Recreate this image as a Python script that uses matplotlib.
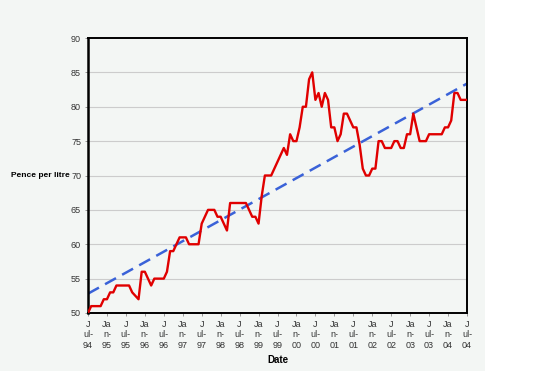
import numpy as np
import matplotlib
matplotlib.use("Agg")
import matplotlib.pyplot as plt
from matplotlib.patches import Rectangle

plt.rcParams['font.family'] = ['Liberation Sans', 'DejaVu Sans']

# Monthly petrol price, Jul 1994 .. Jul 2004 (pence per litre)
price = [
    50, 51, 51, 51, 51, 52, 52, 53, 53, 54,   # Jul94-Apr95
    54, 54, 54, 54, 53, 52.5, 52, 56, 56, 55, # May95-Feb96
    54, 55, 55, 55, 55, 56, 59, 59, 60, 61,   # Mar96-Dec96
    61, 61, 60, 60, 60, 60, 63, 64, 65, 65,   # Jan97-Oct97
    65, 64, 64, 63, 62, 66, 66, 66, 66, 66,   # Nov97-Aug98
    66, 65, 64, 64, 63, 67, 70, 70, 70, 71,   # Sep98-Jun99
    72, 73, 74, 73, 76, 75, 75, 77, 80, 80,   # Jul99-Apr00
    84, 85, 81, 82, 80, 82, 81, 77, 77, 75,   # May00-Feb01
    76, 79, 79, 78, 77, 77, 74.5, 71, 70, 70, # Mar01-Dec01
    71, 71, 75, 75, 74, 74, 74, 75, 75, 74,   # Jan02-Oct02
    74, 76, 76, 79, 77, 75, 75, 75, 76, 76,   # Nov02-Aug03
    76, 76, 76, 77, 77, 78, 82, 82, 81, 81,   # Sep03-Jun04
    81,                                        # Jul04
]

tick_labels = [
    "J\nul-\n94", "Ja\nn-\n95", "J\nul-\n95", "Ja\nn-\n96", "J\nul-\n96",
    "Ja\nn-\n97", "J\nul-\n97", "Ja\nn-\n98", "J\nul-\n98", "Ja\nn-\n99",
    "J\nul-\n99", "Ja\nn-\n00", "J\nul-\n00", "Ja\nn-\n01", "J\nul-\n01",
    "Ja\nn-\n02", "J\nul-\n02", "Ja\nn-\n03", "J\nul-\n03", "Ja\nn-\n04",
    "J\nul-\n04",
]

y_label = "Pence per litre"
x_label = "Date"

x = np.arange(len(price))
coef = np.polyfit(x, price, 1)
trend = np.polyval(coef, x)

fig = plt.figure(figsize=(5.44, 3.71), dpi=100)
fig.patch.set_facecolor('white')
fig.add_artist(Rectangle((0, 0), 485 / 544, 1, transform=fig.transFigure,
                         facecolor='#f3f6f4', edgecolor='none', zorder=-10))

ax = fig.add_axes([88 / 544, 1 - 313 / 371, (467 - 88) / 544, (313 - 38) / 371])
ax.set_facecolor('#f3f6f4')

ax.plot(x, price, color='#e00000', lw=1.7, zorder=3)
ax.plot(x, trend, color='#3a62d8', lw=1.8, dashes=(5, 2.8), zorder=2)

ax.set_xlim(0, len(price) - 1)
ax.set_ylim(50, 90)
ax.set_yticks(np.arange(50, 91, 5))
ax.set_yticklabels([str(v) for v in range(50, 91, 5)], fontsize=6.5, color='#333333')
ax.set_xticks(np.arange(0, len(price), 6))
ax.set_xticklabels(tick_labels, fontsize=6.5, color='#333333', linespacing=1.2)

for v in range(55, 90, 5):
    ax.axhline(v, color='#cccccc', lw=0.8, zorder=1)

for s in ax.spines.values():
    s.set_color('black')
    s.set_linewidth(1.4)
ax.spines['left'].set_linewidth(1.8)

ax.tick_params(axis='both', length=2, width=0.6, color='#888888', pad=3)

ax.set_xlabel(x_label, fontsize=7, fontweight='bold', labelpad=4)
ax.text(-0.047, 0.5, y_label, transform=ax.transAxes, ha='right', va='center',
        fontsize=6, fontweight='bold')

fig.savefig('out.png', dpi=100, facecolor=fig.get_facecolor())
